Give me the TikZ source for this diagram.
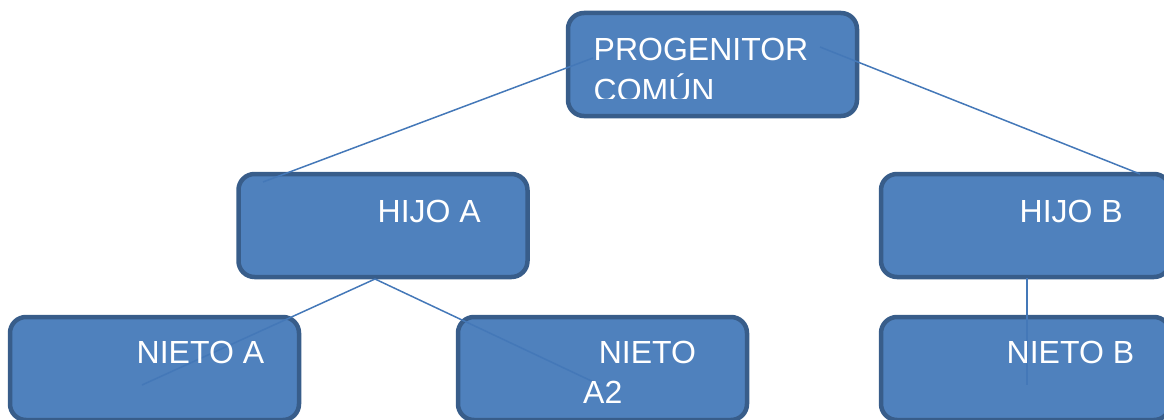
\documentclass[tikz,border=0pt]{standalone}
\usepackage{fontspec}
\setmainfont{Liberation Sans}
\usepackage{tikz}
\definecolor{boxfill}{HTML}{4F81BD}
\definecolor{boxline}{HTML}{385D8A}
\definecolor{linkline}{HTML}{4478B8}
\tikzstyle{member} =
[
	rectangle
	, rounded corners=16pt
	, minimum width=289pt
	, minimum height=103pt
	, line width=4.5pt
	, draw=boxline
	, fill=boxfill
]
\tikzstyle{boxtext} =
[
	anchor=base west
	, inner sep=0pt
	, align=left
	, text=white
	, font=\fontsize{32}{40}\selectfont
]
\tikzstyle{link} = [draw=linkline, line width=1.5pt]

\begin{document}
\begin{tikzpicture}[x=1pt, y=-1pt, node distance=161pt]
\useasboundingbox (0,0) rectangle (1164,420);

\node(prog)[member] at (712.5,64.5) {};
\node(hijoA)[member, below of=prog, xshift=-329.5pt]{};
\node(hijoB)[member, below of=prog, xshift=313pt]{};
\node(nietoA)[member, below of=hijoA, yshift=18pt, xshift=-228.5pt]{};
\node(nietoAA)[member, below of=hijoA, yshift=18pt, xshift=219.5pt]{};
\node(nietoB)[member, below of=hijoB, yshift=18pt]{};

\coordinate(progL) at (593,58);
\coordinate(progR) at (820,47);
\coordinate(hijoAtop) at (263,182);
\coordinate(hijoBtop) at (1140,174);
\coordinate(hijoAbot) at (375,279);
\coordinate(hijoBbot) at (1027,278);
\coordinate(nietoAin) at (142,385);
\coordinate(nietoAAin) at (600,385);
\coordinate(nietoBin) at (1027,385);

\draw[link](progL)--(hijoAtop);
\draw[link](progR)--(hijoBtop);
\draw[link](hijoAbot)--(nietoAin);
\draw[link](hijoAbot)--(nietoAAin);
\draw[link](hijoBbot)--(nietoBin);

% second line of the top box is cut off in the original
\begin{scope}
\clip (566,0) rectangle (859,98);
\node(progT)[boxtext] at ([xshift=-119pt, yshift=-36.5pt]prog.center){PROGENITOR\\COMÚN};
\end{scope}
\node(hijoAT)[boxtext] at ([xshift=-5.5pt, yshift=3.5pt]hijoA.center){HIJO A};
\node(hijoBT)[boxtext] at ([xshift=-6pt, yshift=3.5pt]hijoB.center){HIJO B};
\node(nietoAT)[boxtext] at ([xshift=-18pt, yshift=5.5pt]nietoA.center){NIETO A};
\node(nietoAAT)[boxtext] at ([xshift=-19.5pt, yshift=-34.5pt]nietoAA.center){\hspace*{15.6pt}NIETO\\A2};
\node(nietoBT)[boxtext] at ([xshift=-19pt, yshift=5.5pt]nietoB.center){NIETO B};

\end{tikzpicture}
\end{document}
